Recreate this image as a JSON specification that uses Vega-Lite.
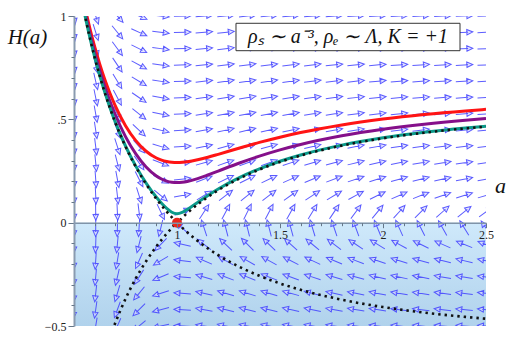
{
  "$schema": "https://vega.github.io/schema/vega-lite/v6.json",
  "autosize": {"type": "none"},
  "padding": {"left": 74, "top": 16, "right": 37, "bottom": 18},
  "width": 412,
  "height": 310,
  "background": "white",
  "config": {"view": {"stroke": null}, "font": "Liberation Serif", "axis": {"labelOverlap": false, "labelFlush": false, "labelBound": false, "grid": false}},
  "resolve": {"axis": {"x": "independent", "y": "independent"}},
  "datasets": {
    "field": [
      {"a": 0.5, "H": [-0.5,-0.4211,-0.3421,-0.2632,-0.1842,-0.1053,-0.0263,0.0526,0.1316,0.2105,0.2895,0.3684,0.4474,0.5263,0.6053,0.6842,0.7632,0.8421,0.9211,1], "ang": [93.6,93.0,92.5,91.9,91.3,90.8,90.2,89.6,89.1,88.5,87.9,87.4,86.8,86.2,85.7,85.1,84.6,84.0,83.4,82.9]},
      {"a": 0.6053, "H": [-0.5,-0.4211,-0.3421,-0.2632,-0.1842,-0.1053,-0.0263,0.0526,0.1316,0.2105,0.2895,0.3684,0.4474,0.5263,0.6053,0.6842,0.7632,0.8421,0.9211,1], "ang": [99.6,98.1,96.6,95.1,93.6,92.0,90.5,89.0,87.4,85.9,84.4,82.9,81.4,79.9,78.4,76.9,75.5,74.0,72.6,71.2]},
      {"a": 0.7105, "H": [-0.5,-0.4211,-0.3421,-0.2632,-0.1842,-0.1053,-0.0263,0.0526,0.1316,0.2105,0.2895,0.3684,0.4474,0.5263,0.6053,0.6842,0.7632,0.8421,0.9211,1], "ang": [113.8,110.3,106.8,103.0,99.2,95.3,91.3,87.3,83.4,79.5,75.7,72.0,68.5,65.1,61.9,58.9,56.1,53.4,51.0,48.6]},
      {"a": 0.8158, "H": [-0.5,-0.4211,-0.3421,-0.2632,-0.1842,-0.1053,-0.0263,0.0526,0.1316,0.2105,0.2895,0.3684,0.4474,0.5263,0.6053,0.6842,0.7632,0.8421,0.9211,1], "ang": [140.2,135.4,129.4,122.3,113.9,104.2,93.6,82.8,72.4,63.2,55.2,48.5,42.9,38.3,34.5,31.3,28.6,26.3,24.3,22.6]},
      {"a": 0.9211, "H": [-0.5,-0.4211,-0.3421,-0.2632,-0.1842,-0.1053,-0.0263,0.0526,0.1316,0.2105,0.2895,0.3684,0.4474,0.5263,0.6053,0.6842,0.7632,0.8421,0.9211,1], "ang": [167.6,165.4,162.2,157.4,149.2,133.8,103.5,64.4,39.8,27.5,20.8,16.6,13.8,11.8,10.3,9.1,8.2,7.4,6.8,6.3]},
      {"a": 1.0263, "H": [-0.5,-0.4211,-0.3421,-0.2632,-0.1842,-0.1053,-0.0263,0.0526,0.1316,0.2105,0.2895,0.3684,0.4474,0.5263,0.6053,0.6842,0.7632,0.8421,0.9211,1], "ang": [182.7,183.2,184.0,185.2,187.3,192.7,222.0,-24.3,-10.2,-6.4,-4.7,-3.7,-3.0,-2.6,-2.2,-2.0,-1.8,-1.6,-1.5,-1.4]},
      {"a": 1.1316, "H": [-0.5,-0.4211,-0.3421,-0.2632,-0.1842,-0.1053,-0.0263,0.0526,0.1316,0.2105,0.2895,0.3684,0.4474,0.5263,0.6053,0.6842,0.7632,0.8421,0.9211,1], "ang": [189.1,190.8,193.2,197.0,203.5,217.3,251.8,-56.7,-31.4,-20.9,-15.5,-12.3,-10.2,-8.7,-7.6,-6.7,-6.0,-5.4,-5.0,-4.6]},
      {"a": 1.2368, "H": [-0.5,-0.4211,-0.3421,-0.2632,-0.1842,-0.1053,-0.0263,0.0526,0.1316,0.2105,0.2895,0.3684,0.4474,0.5263,0.6053,0.6842,0.7632,0.8421,0.9211,1], "ang": [191.4,193.5,196.5,201.0,208.8,223.9,255.4,-62.5,-37.6,-25.7,-19.3,-15.4,-12.7,-10.9,-9.5,-8.4,-7.6,-6.9,-6.3,-5.8]},
      {"a": 1.3421, "H": [-0.5,-0.4211,-0.3421,-0.2632,-0.1842,-0.1053,-0.0263,0.0526,0.1316,0.2105,0.2895,0.3684,0.4474,0.5263,0.6053,0.6842,0.7632,0.8421,0.9211,1], "ang": [191.9,194.1,197.1,201.8,209.8,225.0,256.0,-63.5,-38.7,-26.6,-20.0,-16.0,-13.3,-11.3,-9.9,-8.8,-7.9,-7.1,-6.5,-6.0]},
      {"a": 1.4474, "H": [-0.5,-0.4211,-0.3421,-0.2632,-0.1842,-0.1053,-0.0263,0.0526,0.1316,0.2105,0.2895,0.3684,0.4474,0.5263,0.6053,0.6842,0.7632,0.8421,0.9211,1], "ang": [191.5,193.6,196.6,201.2,209.0,224.1,255.5,-62.7,-37.8,-25.8,-19.4,-15.5,-12.8,-11.0,-9.6,-8.5,-7.6,-6.9,-6.3,-5.8]},
      {"a": 1.5526, "H": [-0.5,-0.4211,-0.3421,-0.2632,-0.1842,-0.1053,-0.0263,0.0526,0.1316,0.2105,0.2895,0.3684,0.4474,0.5263,0.6053,0.6842,0.7632,0.8421,0.9211,1], "ang": [190.8,192.7,195.5,199.9,207.3,222.1,254.5,-61.0,-35.9,-24.3,-18.2,-14.5,-12.0,-10.2,-8.9,-7.9,-7.1,-6.4,-5.9,-5.4]},
      {"a": 1.6579, "H": [-0.5,-0.4211,-0.3421,-0.2632,-0.1842,-0.1053,-0.0263,0.0526,0.1316,0.2105,0.2895,0.3684,0.4474,0.5263,0.6053,0.6842,0.7632,0.8421,0.9211,1], "ang": [189.9,191.7,194.3,198.3,205.3,219.6,253.2,-58.9,-33.5,-22.5,-16.7,-13.3,-11.0,-9.4,-8.2,-7.3,-6.5,-5.9,-5.4,-5.0]},
      {"a": 1.7632, "H": [-0.5,-0.4211,-0.3421,-0.2632,-0.1842,-0.1053,-0.0263,0.0526,0.1316,0.2105,0.2895,0.3684,0.4474,0.5263,0.6053,0.6842,0.7632,0.8421,0.9211,1], "ang": [189.0,190.6,193.0,196.7,203.2,216.9,251.6,-56.3,-31.0,-20.6,-15.3,-12.1,-10.0,-8.5,-7.4,-6.6,-5.9,-5.4,-4.9,-4.5]},
      {"a": 1.8684, "H": [-0.5,-0.4211,-0.3421,-0.2632,-0.1842,-0.1053,-0.0263,0.0526,0.1316,0.2105,0.2895,0.3684,0.4474,0.5263,0.6053,0.6842,0.7632,0.8421,0.9211,1], "ang": [188.1,189.6,191.8,195.2,201.2,214.1,249.7,-53.6,-28.4,-18.7,-13.8,-10.9,-9.0,-7.7,-6.7,-5.9,-5.3,-4.8,-4.4,-4.1]},
      {"a": 1.9737, "H": [-0.5,-0.4211,-0.3421,-0.2632,-0.1842,-0.1053,-0.0263,0.0526,0.1316,0.2105,0.2895,0.3684,0.4474,0.5263,0.6053,0.6842,0.7632,0.8421,0.9211,1], "ang": [187.3,188.7,190.6,193.7,199.2,211.4,247.7,-50.6,-26.0,-17.0,-12.5,-9.9,-8.2,-7.0,-6.1,-5.4,-4.8,-4.4,-4.0,-3.7]},
      {"a": 2.0789, "H": [-0.5,-0.4211,-0.3421,-0.2632,-0.1842,-0.1053,-0.0263,0.0526,0.1316,0.2105,0.2895,0.3684,0.4474,0.5263,0.6053,0.6842,0.7632,0.8421,0.9211,1], "ang": [186.6,187.8,189.6,192.4,197.4,208.8,245.5,-47.7,-23.7,-15.3,-11.3,-8.9,-7.4,-6.3,-5.5,-4.8,-4.3,-3.9,-3.6,-3.3]},
      {"a": 2.1842, "H": [-0.5,-0.4211,-0.3421,-0.2632,-0.1842,-0.1053,-0.0263,0.0526,0.1316,0.2105,0.2895,0.3684,0.4474,0.5263,0.6053,0.6842,0.7632,0.8421,0.9211,1], "ang": [185.9,187.0,188.6,191.2,195.8,206.3,243.2,-44.7,-21.6,-13.9,-10.2,-8.0,-6.6,-5.6,-4.9,-4.3,-3.9,-3.5,-3.2,-3.0]},
      {"a": 2.2895, "H": [-0.5,-0.4211,-0.3421,-0.2632,-0.1842,-0.1053,-0.0263,0.0526,0.1316,0.2105,0.2895,0.3684,0.4474,0.5263,0.6053,0.6842,0.7632,0.8421,0.9211,1], "ang": [185.4,186.4,187.8,190.1,194.3,204.0,240.7,-41.7,-19.6,-12.6,-9.2,-7.3,-6.0,-5.1,-4.4,-3.9,-3.5,-3.2,-2.9,-2.7]},
      {"a": 2.3947, "H": [-0.5,-0.4211,-0.3421,-0.2632,-0.1842,-0.1053,-0.0263,0.0526,0.1316,0.2105,0.2895,0.3684,0.4474,0.5263,0.6053,0.6842,0.7632,0.8421,0.9211,1], "ang": [184.8,185.8,187.1,189.2,193.0,201.9,238.2,-38.9,-17.9,-11.4,-8.3,-6.6,-5.4,-4.6,-4.0,-3.5,-3.2,-2.9,-2.6,-2.4]},
      {"a": 2.5, "H": [-0.5,-0.4211,-0.3421,-0.2632,-0.1842,-0.1053,-0.0263,0.0526,0.1316,0.2105,0.2895,0.3684,0.4474,0.5263,0.6053,0.6842,0.7632,0.8421,0.9211,1], "ang": [184.4,185.2,186.4,188.3,191.8,200.0,235.6,-36.1,-16.3,-10.3,-7.6,-6.0,-4.9,-4.2,-3.6,-3.2,-2.9,-2.6,-2.4,-2.2]}
    ],
    "curves": [
      {"c": "red", "a": [0.55,0.56,0.58,0.6,0.625,0.65,0.675,0.7,0.75,0.8,0.85,0.9,0.925,0.95,0.975,1,1.025,1.05,1.1,1.15,1.2,1.3,1.4,1.5,1.6,1.8,2,2.2,2.4,2.5], "H": [1.0579,1.0126,0.9285,0.8524,0.7673,0.6919,0.6252,0.5664,0.4695,0.3970,0.3456,0.3129,0.3026,0.2959,0.2921,0.2910,0.2920,0.2947,0.3040,0.3165,0.3307,0.3602,0.3883,0.4136,0.4360,0.4729,0.5013,0.5235,0.5409,0.5483]},
      {"c": "purple", "a": [0.55,0.56,0.58,0.6,0.625,0.65,0.675,0.7,0.75,0.8,0.85,0.9,0.925,0.95,0.975,1,1.025,1.05,1.1,1.15,1.2,1.3,1.4,1.5,1.6,1.8,2,2.2,2.4,2.5], "H": [1.0355,0.9891,0.9029,0.8244,0.7360,0.6570,0.5864,0.5233,0.4165,0.3325,0.2692,0.2257,0.2112,0.2013,0.1958,0.1941,0.1956,0.1996,0.2131,0.2307,0.2497,0.2876,0.3221,0.3523,0.3783,0.4203,0.4520,0.4764,0.4956,0.5037]},
      {"c": "teal", "a": [0.55,0.56,0.58,0.6,0.625,0.65,0.675,0.7,0.75,0.8,0.85,0.9,0.925,0.95,0.975,1,1.025,1.05,1.1,1.15,1.2,1.3,1.4,1.5,1.6,1.8,2,2.2,2.4,2.5], "H": [1.0180,0.9709,0.8828,0.8024,0.7112,0.6292,0.5551,0.4879,0.3710,0.2735,0.1915,0.1230,0.0938,0.0688,0.0503,0.0432,0.0495,0.0637,0.0981,0.1319,0.1630,0.2166,0.2607,0.2971,0.3276,0.3753,0.4105,0.4373,0.4581,0.4668]},
      {"c": "sepU", "a": [0.55,0.56,0.58,0.6,0.625,0.65,0.675,0.7,0.75,0.8,0.85,0.9,0.925,0.95,0.975,1,1.025,1.05,1.1,1.15,1.2,1.3,1.4,1.5,1.6,1.8,2,2.2,2.4,2.5], "H": [1.0171,0.9699,0.8818,0.8012,0.7099,0.6277,0.5534,0.4859,0.3685,0.2700,0.1865,0.1151,0.0832,0.0535,0.0257,0,0.0241,0.0468,0.0881,0.1246,0.1571,0.2122,0.2571,0.2940,0.3247,0.3728,0.4082,0.4351,0.4560,0.4648]},
      {"c": "sepL", "a": [0.675,0.7,0.75,0.8,0.85,0.9,0.925,0.95,0.975,1,1.025,1.05,1.1,1.15,1.2,1.3,1.4,1.5,1.6,1.8,2,2.2,2.4,2.5], "H": [-0.5534,-0.4859,-0.3685,-0.2700,-0.1865,-0.1151,-0.0832,-0.0535,-0.0257,0,-0.0241,-0.0468,-0.0881,-0.1246,-0.1571,-0.2122,-0.2571,-0.2940,-0.3247,-0.3728,-0.4082,-0.4351,-0.4560,-0.4648]}
    ]
  },
  "layer": [
    {
      "data": {"values": [{}]},
      "mark": {"type": "rect", "fill": {"gradient": "linear", "x1": 0, "y1": 0, "x2": 0, "y2": 1, "stops": [{"offset": 0, "color": "#cfe9fb"}, {"offset": 1, "color": "#b0d2ec"}]}},
      "encoding": {
        "x": {"datum": 0.5, "type": "quantitative", "axis": null},
        "x2": {"datum": 2.5},
        "y": {"datum": 0, "type": "quantitative", "axis": null},
        "y2": {"datum": -0.5}
      }
    },
    {
      "data": {"name": "field"},
      "transform": [{"flatten": ["H", "ang"]}],
      "mark": {"type": "point", "shape": "M-1,0L0.45,0M0.3,-0.32L1,0L0.3,0.32Z", "filled": true, "fill": "#d4d4ff", "fillOpacity": 0.6, "stroke": "#3f3fff", "strokeWidth": 1, "strokeOpacity": 0.85, "size": 289, "clip": true},
      "encoding": {
        "x": {
          "field": "a", "type": "quantitative",
          "scale": {"domain": [0.5, 2.5], "nice": false, "zero": false},
          "axis": {
            "orient": "bottom",
            "offset": -103.3,
            "zindex": 1,
            "values": [1, 1.5, 2, 2.5],
            "labelExpr": "datum.value == 1 ? '1' : datum.value == 1.5 ? '1.5' : datum.value == 2 ? '2' : '2.5'",
            "tickSize": 5,
            "tickColor": "#667788",
            "domainColor": "#7f93a8",
            "domainWidth": 1.5,
            "labelFont": "Liberation Serif", "labelFontSize": 12, "labelColor": "#222", "labelFlush": false, "labelPadding": 2, "labelOverlap": false, "labelBound": false,
            "grid": false,
            "title": "a", "titleFont": "Liberation Serif", "titleFontStyle": "italic", "titleFontWeight": "normal", "titleFontSize": 22, "titleColor": "#111",
            "titleX": 426, "titleY": -37, "titleAlign": "center", "titleBaseline": "middle"
          }
        },
        "y": {
          "field": "H", "type": "quantitative",
          "scale": {"domain": [-0.5, 1], "nice": false, "zero": false},
          "axis": {
            "orient": "left",
            "zindex": 1,
            "values": [-0.5, 0, 0.5, 1],
            "labelExpr": "datum.value == 0.5 ? '.5' : datum.value == -0.5 ? '−0.5' : datum.value == 0 ? '0' : '1'",
            "tickSize": 6,
            "tickColor": "#667788",
            "domainColor": "#8a9bb0",
            "domainWidth": 2,
            "labelFont": "Liberation Serif", "labelFontSize": 12, "labelColor": "#222", "labelFlush": false, "labelPadding": 2, "labelOverlap": false, "labelBound": false,
            "grid": false,
            "title": "H(a)", "titleAngle": 0, "titleFont": "Liberation Serif", "titleFontStyle": "italic", "titleFontWeight": "normal", "titleFontSize": 21, "titleColor": "#111",
            "titleX": -47, "titleY": 21, "titleAlign": "center", "titleBaseline": "middle"
          }
        },
        "angle": {"field": "ang", "type": "quantitative", "scale": null}
      }
    },
    {
      "data": {"name": "curves"},
      "transform": [{"flatten": ["a", "H"]}, {"filter": "datum.c=='red' || datum.c=='purple' || datum.c=='teal'"}],
      "mark": {"type": "line", "interpolate": "monotone", "strokeWidth": 3, "clip": true},
      "encoding": {
        "x": {"field": "a", "type": "quantitative", "axis": null},
        "y": {"field": "H", "type": "quantitative", "axis": null},
        "color": {"field": "c", "type": "nominal", "scale": {"domain": ["red", "purple", "teal"], "range": ["#ff1414", "#85108a", "#0c9a8a"]}, "legend": null},
        "order": {"field": "a", "type": "quantitative"}
      }
    },
    {
      "data": {"name": "curves"},
      "transform": [{"flatten": ["a", "H"]}, {"filter": "datum.c=='sepU' || datum.c=='sepL'"}],
      "mark": {"type": "line", "interpolate": "monotone", "strokeWidth": 2.6, "strokeDash": [2.4, 4], "color": "#111111", "clip": true, "zindex": 2},
      "encoding": {
        "x": {"field": "a", "type": "quantitative", "axis": null},
        "y": {"field": "H", "type": "quantitative", "axis": null},
        "detail": {"field": "c", "type": "nominal"},
        "order": {"field": "a", "type": "quantitative"}
      }
    },
    {
      "data": {"values": [{"a": 1, "H": 0}]},
      "mark": {"type": "point", "filled": true, "size": 100, "color": "#e8261c", "opacity": 1, "zindex": 2},
      "encoding": {
        "x": {"field": "a", "type": "quantitative", "axis": {"orient": "bottom", "offset": -103.3, "zindex": 1, "values": [0.6,0.7,0.8,0.9,1.1,1.2,1.3,1.4,1.6,1.7,1.8,1.9,2.1,2.2,2.3,2.4], "labels": false, "domain": false, "tickSize": 3, "tickColor": "#667788", "title": null, "grid": false}},
        "y": {"field": "H", "type": "quantitative", "axis": {"orient": "left", "zindex": 1, "values": [-0.4,-0.3,-0.2,-0.1,0.1,0.2,0.3,0.4,0.6,0.7,0.8,0.9], "labels": false, "domain": false, "tickSize": 3, "tickColor": "#667788", "title": null, "grid": false}}
      }
    },
    {
      "data": {"values": [{}]},
      "mark": {"type": "rect", "fill": "white", "stroke": "#333333", "strokeWidth": 1, "zindex": 2},
      "encoding": {
        "x": {"datum": 1.2864, "type": "quantitative", "axis": null},
        "x2": {"datum": 2.3738},
        "y": {"datum": 0.9647, "type": "quantitative", "axis": null},
        "y2": {"datum": 0.8321}
      }
    },
    {
      "data": {"values": [{}]},
      "mark": {"type": "text", "text": "ρₛ ∼ a⁻³, ρₑ ∼ Λ, K = +1", "font": "Liberation Serif", "fontStyle": "italic", "fontSize": 20, "color": "#111", "align": "center", "baseline": "middle", "zindex": 3},
      "encoding": {
        "x": {"datum": 1.83, "type": "quantitative", "axis": null},
        "y": {"datum": 0.898, "type": "quantitative", "axis": null}
      }
    }
  ]
}
